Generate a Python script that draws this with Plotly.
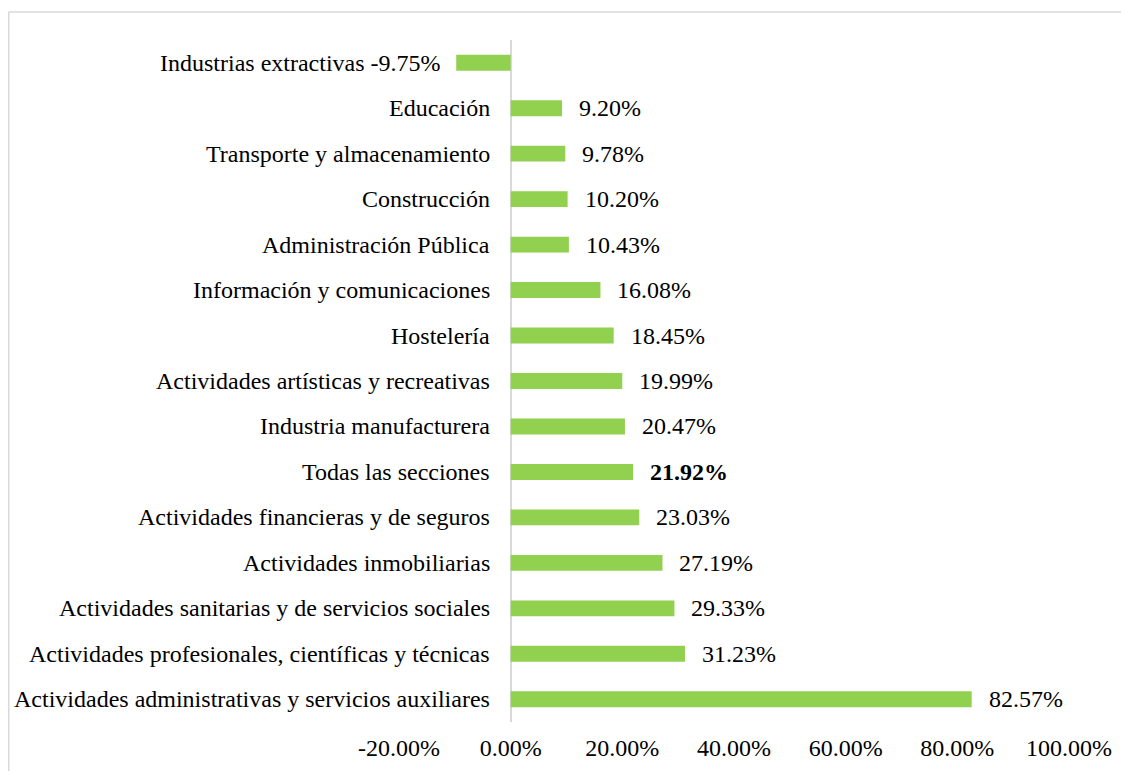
import plotly.graph_objects as go

categories = [
    "Industrias extractivas",
    "Educación",
    "Transporte y almacenamiento",
    "Construcción",
    "Administración Pública",
    "Información y comunicaciones",
    "Hostelería",
    "Actividades artísticas y recreativas",
    "Industria manufacturera",
    "Todas las secciones",
    "Actividades financieras y de seguros",
    "Actividades inmobiliarias",
    "Actividades sanitarias y de servicios sociales",
    "Actividades profesionales, científicas y técnicas",
    "Actividades administrativas y servicios auxiliares",
]
values = [-9.75, 9.20, 9.78, 10.20, 10.43, 16.08, 18.45, 19.99, 20.47,
          21.92, 23.03, 27.19, 29.33, 31.23, 82.57]
bold_category = "Todas las secciones"
tick_vals = [-20, 0, 20, 40, 60, 80, 100]
tick_text = ["-20.00%", "0.00%", "20.00%", "40.00%", "60.00%", "80.00%", "100.00%"]

FONT = "Liberation Serif, Times New Roman, serif"
FS = 24
W, H = 1129, 771
# page body has an 8px margin, so figure coords = screen coords - 8
ML, MR, MT, MB = 391, 68, 32, 57

fig = go.Figure()
fig.add_trace(go.Bar(
    x=values, y=categories, orientation="h",
    marker=dict(color="#92D050", line=dict(width=0)),
    width=0.35, hoverinfo="x+y",
))

annotations = []
for c, v in zip(categories, values):
    txt = f"{v:.2f}%"
    if c == bold_category:
        txt = f"<b>{txt}</b>"
    if v >= 0:
        annotations.append(dict(
            x=0, y=c, xref="x", yref="y", text=c, showarrow=False,
            xanchor="right", xshift=-19, font=dict(family=FONT, size=FS, color="black")))
        annotations.append(dict(
            x=v, y=c, xref="x", yref="y", text=txt, showarrow=False,
            xanchor="left", xshift=15, font=dict(family=FONT, size=FS, color="black")))
    else:
        # category label and value sit side by side left of the negative bar
        annotations.append(dict(
            x=v, y=c, xref="x", yref="y", text=f"{c} {txt}", showarrow=False,
            xanchor="right", xshift=-13, font=dict(family=FONT, size=FS, color="black")))

pw = W - ML - MR
ph = H - MT - MB
x_left = (0.75 - ML) / pw
x_right = (W - ML) / pw
y_top = (H - MB - 4) / ph
y_bot = (H - MB - H) / ph

shapes = [
    dict(type="line", xref="paper", yref="paper", x0=x_left, x1=x_right, y0=y_top, y1=y_top,
         line=dict(color="#d9d9d9", width=1.5)),
    dict(type="line", xref="paper", yref="paper", x0=x_left, x1=x_left, y0=y_bot, y1=y_top,
         line=dict(color="#d9d9d9", width=1.5)),
]

fig.update_layout(
    width=W, height=H,
    margin=dict(l=ML, r=MR, t=MT, b=MB),
    paper_bgcolor="white", plot_bgcolor="white",
    showlegend=False,
    annotations=annotations,
    shapes=shapes,
    font=dict(family=FONT, size=FS, color="black"),
    xaxis=dict(range=[-20, 100], tickvals=tick_vals, ticktext=tick_text,
               showgrid=False, zeroline=True, zerolinecolor="#d9d9d9", zerolinewidth=2,
               showline=False, ticks="", ticklabelstandoff=9,
               tickfont=dict(family=FONT, size=FS, color="black"), fixedrange=True),
    yaxis=dict(autorange="reversed", showticklabels=False, showgrid=False,
               zeroline=False, showline=False, ticks="", fixedrange=True),
)

fig.write_html("out.html")
